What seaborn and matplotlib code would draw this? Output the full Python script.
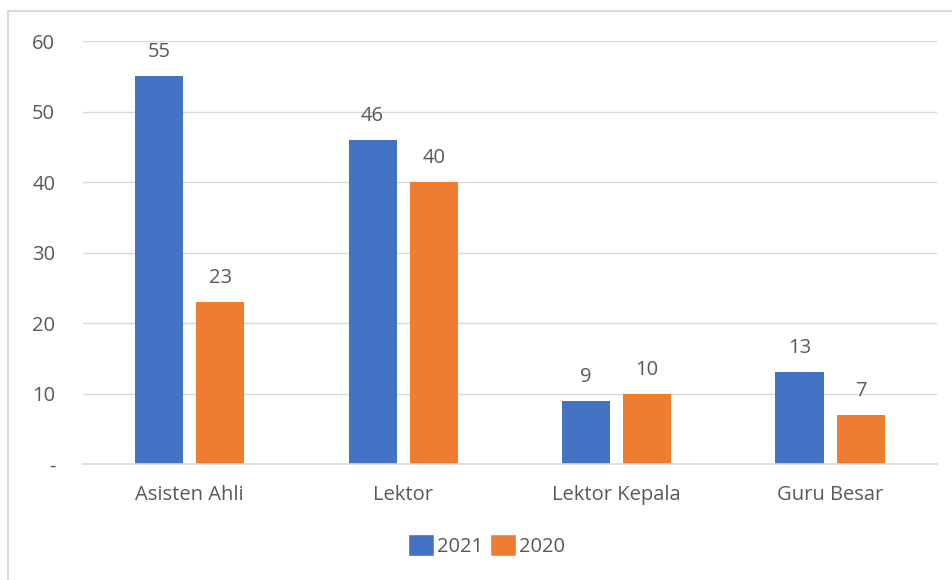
import pandas as pd
import seaborn as sns
import matplotlib.pyplot as plt
from matplotlib.patches import Rectangle, Patch

# Data
categories = ['Asisten Ahli', 'Lektor', 'Lektor Kepala', 'Guru Besar']
years = ['2021', '2020']
values_2021 = [55, 46, 9, 13]
values_2020 = [23, 40, 10, 7]
yticks = [0, 10, 20, 30, 40, 50, 60]
ytick_labels = ['-', '10', '20', '30', '40', '50', '60']

df = pd.DataFrame({
    'Jabatan': categories * 2,
    'Tahun': [years[0]] * 4 + [years[1]] * 4,
    'Jumlah': values_2021 + values_2020,
})

sns.set_style('white')
plt.rcParams['font.family'] = ['Open Sans', 'DejaVu Sans']
text_color = '#595959'
grid_color = '#D9D9D9'
palette = {'2021': '#4472C4', '2020': '#ED7D31'}

fig = plt.figure(figsize=(9.52, 5.8), dpi=100)
ax = fig.add_axes([0.0872, 0.2, 0.8968, 0.7293])

sns.barplot(data=df, x='Jabatan', y='Jumlah', hue='Tahun', hue_order=years,
            palette=palette, width=0.573, gap=0.213, saturation=1, ax=ax,
            linewidth=0, legend=False)

for container in ax.containers:
    ax.bar_label(container, padding=10, fontsize=14.5, color=text_color)

ax.set_ylim(0, 60)
ax.set_xlim(-0.5, 3.5)
ax.set_yticks(yticks)
ax.set_yticklabels(ytick_labels)
ax.yaxis.grid(True, color=grid_color, linewidth=1)
ax.set_axisbelow(True)
ax.set_xlabel('')
ax.set_ylabel('')
for side in ['top', 'right', 'left']:
    ax.spines[side].set_visible(False)
ax.spines['bottom'].set_color(grid_color)
ax.spines['bottom'].set_linewidth(1.2)
ax.tick_params(axis='y', length=0, pad=20, labelsize=14.5, labelcolor=text_color)
ax.tick_params(axis='x', length=0, pad=15, labelsize=14.5, labelcolor=text_color)

handles = [Patch(facecolor=palette[y], label=y) for y in years]
fig.legend(handles=handles, loc='center', bbox_to_anchor=(0.511, 0.06), ncol=2,
           frameon=False, fontsize=14.5, labelcolor=text_color,
           handlelength=1.3, handleheight=1.3, handletextpad=0.15,
           columnspacing=0.3)

# chart area border (cropped on the right and bottom)
fig.patches.append(Rectangle((8 / 952, -0.1), 2, (580 - 11) / 580 + 0.1,
                             transform=fig.transFigure, fill=False,
                             edgecolor=grid_color, linewidth=1.5))

plt.savefig('out.png', dpi=100)
